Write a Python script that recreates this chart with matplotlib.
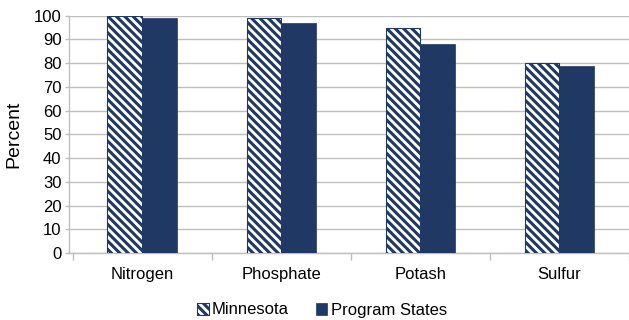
import matplotlib
matplotlib.use("Agg")
import matplotlib.pyplot as plt
import numpy as np

categories = ["Nitrogen", "Phosphate", "Potash", "Sulfur"]
minnesota = [100, 99, 95, 80]
program_states = [99, 97, 88, 79]
yticks = list(range(0, 101, 10))

navy = "#203864"
grid = "#bfbfbf"

plt.rcParams["font.family"] = ["Liberation Sans", "DejaVu Sans"]
plt.rcParams["hatch.linewidth"] = 2.2
plt.rcParams["hatch.color"] = navy

fig = plt.figure(figsize=(6.29, 3.2), dpi=100)
ax = fig.add_axes([68.5 / 629, 67 / 320, (629 - 68.5) / 629, (253 - 15.7) / 320])

x = np.arange(len(categories))
w = 0.25
ax.bar(x - w / 2, minnesota, w, facecolor="white", edgecolor=navy, hatch="\\" * 4,
       linewidth=0.8, label="Minnesota", zorder=3)
ax.bar(x + w / 2, program_states, w, color=navy, edgecolor=navy, linewidth=0.5,
       label="Program States", zorder=3)

ax.set_ylim(0, 100)
ax.set_xlim(-0.53, 3.487)
ax.set_yticks(yticks)
ax.yaxis.grid(True, color=grid, linewidth=1.0, zorder=0)
ax.set_axisbelow(True)

ax.set_xticks(x)
ax.set_xticklabels(categories, fontsize=12)
ax.tick_params(axis="x", which="major", length=0, pad=10)
ax.set_xticks(np.arange(-0.5, 3.6, 1.0), minor=True)
ax.tick_params(axis="x", which="minor", length=5, color=grid, width=1)
ax.tick_params(axis="y", labelsize=12, length=3, color=grid, width=1, pad=2)

for s in ["top", "right"]:
    ax.spines[s].set_visible(False)
ax.spines["left"].set_color(grid)
ax.spines["bottom"].set_color(grid)
ax.spines["left"].set_linewidth(1)
ax.spines["bottom"].set_linewidth(1)

ax.set_ylabel("Percent", fontsize=14, labelpad=8)

fig.legend(loc="center", bbox_to_anchor=(322 / 629, 1 - 310 / 320), ncol=2,
           frameon=False, fontsize=12, handlelength=0.7, handleheight=0.7,
           handletextpad=0.2, columnspacing=1.6)

fig.savefig("out.png", dpi=100)
